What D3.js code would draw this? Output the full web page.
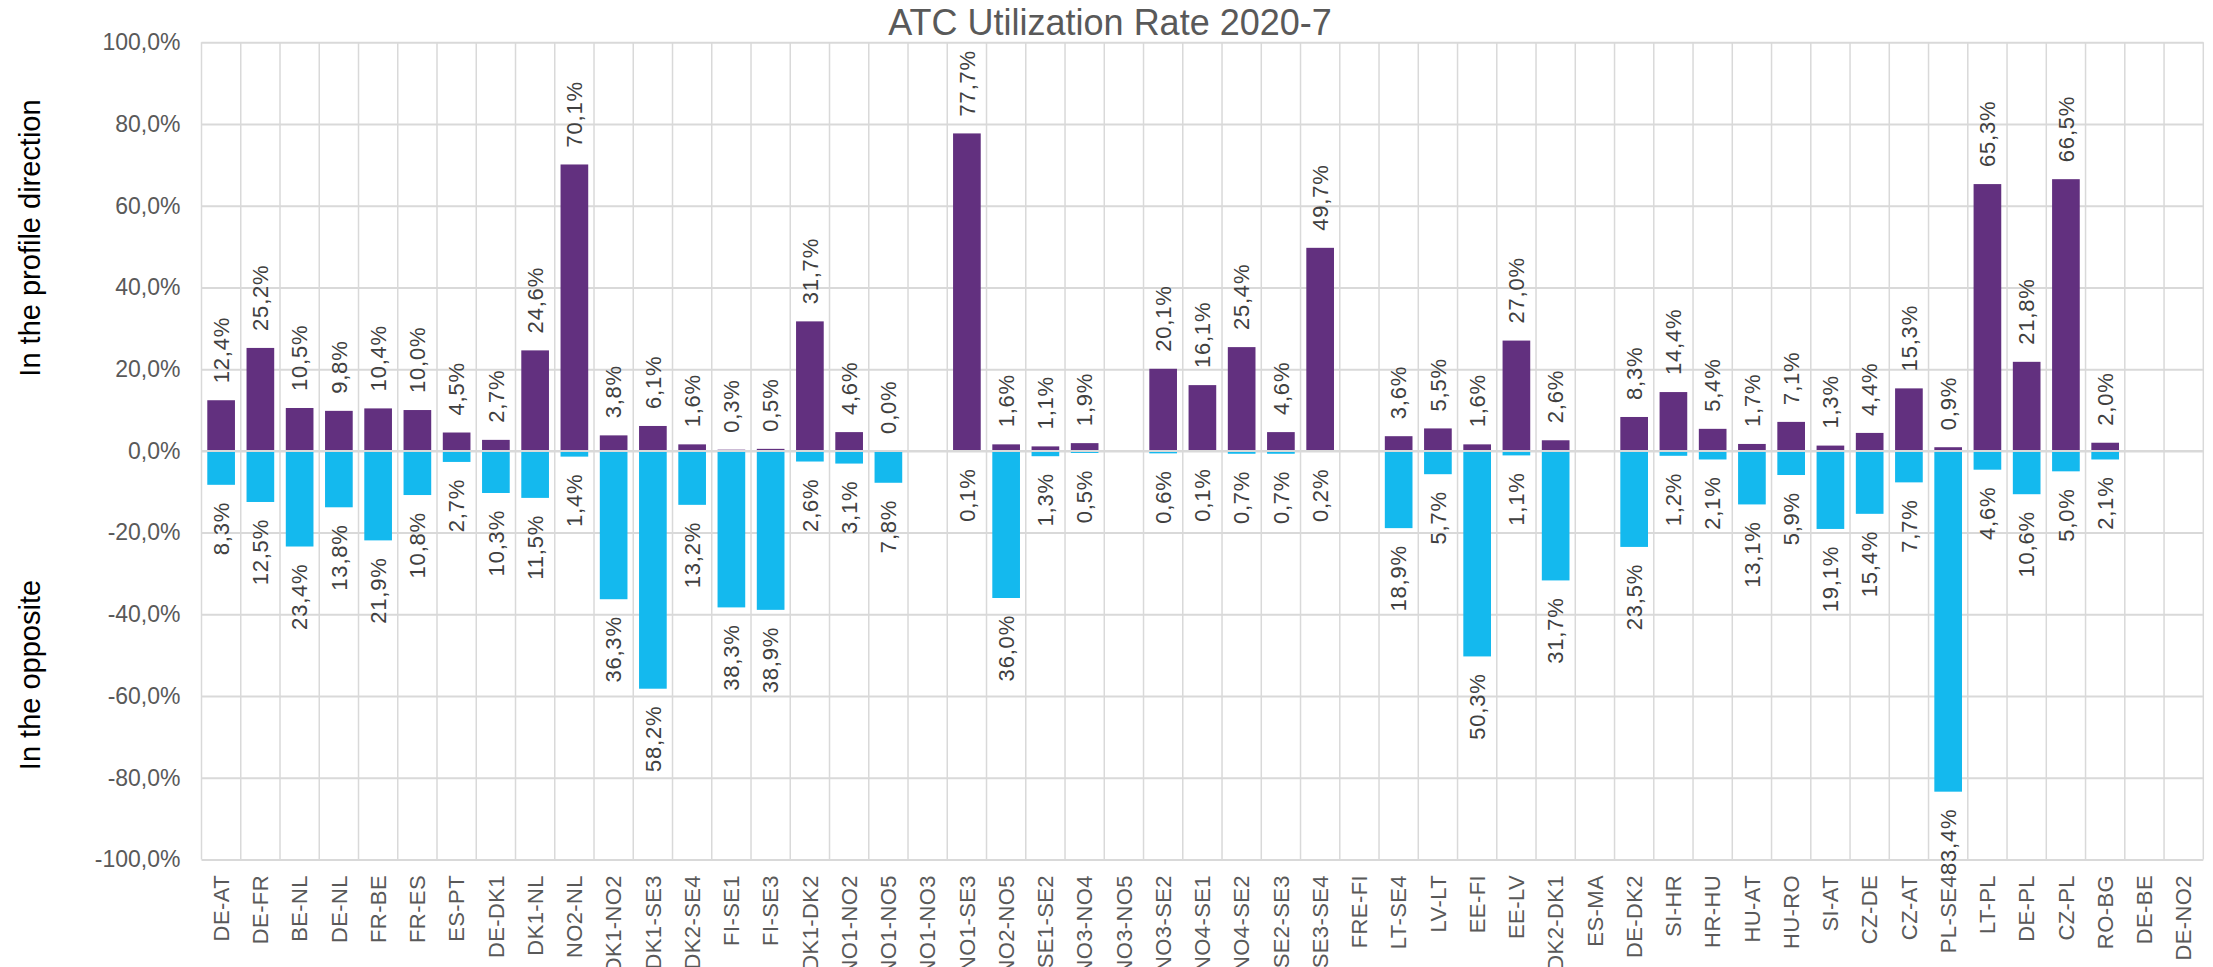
<!DOCTYPE html>
<html>
<head>
<meta charset="utf-8">
<script src="https://cdn.jsdelivr.net/npm/d3@7"></script>
<style>
  html, body { margin: 0; padding: 0; background: #fff; }
  svg { display: block; font-family: "Liberation Sans", Arial, sans-serif; }
</style>
</head>
<body>
<svg id="chart" width="2213" height="967"></svg>
<script>
// Interconnection borders, in display order
const categories = [
  "DE-AT", "DE-FR", "BE-NL", "DE-NL", "FR-BE", "FR-ES", "ES-PT", "DE-DK1", "DK1-NL", "NO2-NL",
  "DK1-NO2", "DK1-SE3", "DK2-SE4", "FI-SE1", "FI-SE3", "DK1-DK2", "NO1-NO2", "NO1-NO5", "NO1-NO3", "NO1-SE3",
  "NO2-NO5", "SE1-SE2", "NO3-NO4", "NO3-NO5", "NO3-SE2", "NO4-SE1", "NO4-SE2", "SE2-SE3", "SE3-SE4", "FRE-FI",
  "LT-SE4", "LV-LT", "EE-FI", "EE-LV", "DK2-DK1", "ES-MA", "DE-DK2", "SI-HR", "HR-HU", "HU-AT",
  "HU-RO", "SI-AT", "CZ-DE", "CZ-AT", "PL-SE4", "LT-PL", "DE-PL", "CZ-PL", "RO-BG", "DE-BE", "DE-NO2"
];

// ATC utilization in the profile direction (%), null = no data
const profileDirection = [
  12.4, 25.2, 10.5, 9.8, 10.4, 10.0, 4.5, 2.7, 24.6, 70.1,
  3.8, 6.1, 1.6, 0.3, 0.5, 31.7, 4.6, 0.0, null, 77.7,
  1.6, 1.1, 1.9, null, 20.1, 16.1, 25.4, 4.6, 49.7, null,
  3.6, 5.5, 1.6, 27.0, 2.6, null, 8.3, 14.4, 5.4, 1.7,
  7.1, 1.3, 4.4, 15.3, 0.9, 65.3, 21.8, 66.5, 2.0, null, null
];

// ATC utilization in the opposite direction (%), drawn downwards
const oppositeDirection = [
  8.3, 12.5, 23.4, 13.8, 21.9, 10.8, 2.7, 10.3, 11.5, 1.4,
  36.3, 58.2, 13.2, 38.3, 38.9, 2.6, 3.1, 7.8, null, 0.1,
  36.0, 1.3, 0.5, null, 0.6, 0.1, 0.7, 0.7, 0.2, null,
  18.9, 5.7, 50.3, 1.1, 31.7, null, 23.5, 1.2, 2.1, 13.1,
  5.9, 19.1, 15.4, 7.7, 83.4, 4.6, 10.6, 5.0, 2.1, null, null
];

// Y axis ticks (%)
const yTickValues = [-100, -80, -60, -40, -20, 0, 20, 40, 60, 80, 100];

const titleText = "ATC Utilization Rate 2020-7";
const axisTitleTop = "In the profile direction";
const axisTitleBottom = "In the opposite";

// ---- layout ----
const plot = { left: 201.5, right: 2203.3, top: 42.3, bottom: 859.5 };
const colors = { profile: "#62307F", opposite: "#14B9EE", grid: "#D9D9D9", tick: "#595959", label: "#404040" };

const locale = d3.formatLocale({ decimal: ",", thousands: ".", grouping: [3], currency: ["", "€"], minus: "-" });
const pct = locale.format(".1%");

const svg = d3.select("#chart");

const x = d3.scaleBand()
  .domain(categories)
  .range([plot.left, plot.right])
  .paddingInner(0.295)
  .paddingOuter(0.1475);

const y = d3.scaleLinear()
  .domain([-100, 100])
  .range([plot.bottom, plot.top]);

// horizontal gridlines
const hGrid = svg.append("g")
  .attr("transform", `translate(${plot.left},0)`)
  .call(d3.axisLeft(y).tickValues(yTickValues).tickSize(-(plot.right - plot.left)).tickFormat(""));
hGrid.select(".domain").remove();
hGrid.selectAll(".tick line").attr("stroke", colors.grid).attr("stroke-width", 2);

// vertical gridlines at category boundaries
const step = x.step();
const boundaries = d3.range(categories.length + 1).map(i => x.range()[0] + i * step);
svg.append("g")
  .selectAll("line")
  .data(boundaries)
  .join("line")
  .attr("x1", d => d).attr("x2", d => d)
  .attr("y1", plot.top).attr("y2", plot.bottom)
  .attr("stroke", colors.grid)
  .attr("stroke-width", 1.5);

const rows = categories.map((c, i) => ({ c, up: profileDirection[i], down: oppositeDirection[i] }));

// bars: profile direction (up)
svg.append("g")
  .selectAll("rect")
  .data(rows.filter(d => d.up != null))
  .join("rect")
  .attr("x", d => x(d.c))
  .attr("width", x.bandwidth())
  .attr("y", d => y(d.up))
  .attr("height", d => y(0) - y(d.up))
  .attr("fill", colors.profile);

// bars: opposite direction (down)
svg.append("g")
  .selectAll("rect")
  .data(rows.filter(d => d.down != null))
  .join("rect")
  .attr("x", d => x(d.c))
  .attr("width", x.bandwidth())
  .attr("y", y(0))
  .attr("height", d => y(-d.down) - y(0))
  .attr("fill", colors.opposite);

// zero line on top of the bars
svg.append("line")
  .attr("x1", plot.left).attr("x2", plot.right)
  .attr("y1", y(0)).attr("y2", y(0))
  .attr("stroke", colors.grid)
  .attr("stroke-width", 2);

// value labels
const labels = svg.append("g")
  .attr("font-size", 22)
  .attr("letter-spacing", 0.8)
  .attr("fill", colors.label);

labels.selectAll("text.up")
  .data(rows.filter(d => d.up != null))
  .join("text")
  .attr("class", "up")
  .attr("transform", d => `translate(${x(d.c) + x.bandwidth() / 2},${y(d.up) - 17}) rotate(-90)`)
  .attr("dy", "0.35em")
  .attr("text-anchor", "start")
  .text(d => pct(d.up / 100));

labels.selectAll("text.down")
  .data(rows.filter(d => d.down != null))
  .join("text")
  .attr("class", "down")
  .attr("transform", d => `translate(${x(d.c) + x.bandwidth() / 2},${y(-d.down) + 17}) rotate(-90)`)
  .attr("dy", "0.35em")
  .attr("text-anchor", "end")
  .text(d => pct(d.down / 100));

// y axis tick labels
const yAxis = svg.append("g")
  .attr("transform", `translate(${plot.left},0)`)
  .call(d3.axisLeft(y).tickValues(yTickValues).tickSize(0).tickPadding(21).tickFormat(v => pct(v / 100)));
yAxis.select(".domain").remove();
yAxis.selectAll("text")
  .attr("font-size", 23)
  .attr("font-family", "'Liberation Sans', Arial, sans-serif")
  .attr("fill", colors.tick);

// category labels
const xAxis = svg.append("g")
  .attr("transform", `translate(0,${plot.bottom})`)
  .call(d3.axisBottom(x).tickSize(0));
xAxis.select(".domain").remove();
xAxis.selectAll("text")
  .attr("transform", "rotate(-90)")
  .attr("x", -15.5)
  .attr("y", 0)
  .attr("dy", "0.35em")
  .attr("text-anchor", "end")
  .attr("font-size", 22)
  .attr("letter-spacing", 0.4)
  .attr("font-family", "'Liberation Sans', Arial, sans-serif")
  .attr("fill", colors.tick);

// chart title
svg.append("text")
  .attr("x", 1110)
  .attr("y", 35)
  .attr("text-anchor", "middle")
  .attr("font-size", 36)
  .attr("fill", colors.tick)
  .text(titleText);

// axis titles for the two directions
svg.append("text")
  .attr("transform", `translate(40,238) rotate(-90)`)
  .attr("text-anchor", "middle")
  .attr("font-size", 29)
  .attr("fill", "#000")
  .text(axisTitleTop);

svg.append("text")
  .attr("transform", `translate(40,675) rotate(-90)`)
  .attr("text-anchor", "middle")
  .attr("font-size", 29)
  .attr("fill", "#000")
  .text(axisTitleBottom);
</script>
</body>
</html>
